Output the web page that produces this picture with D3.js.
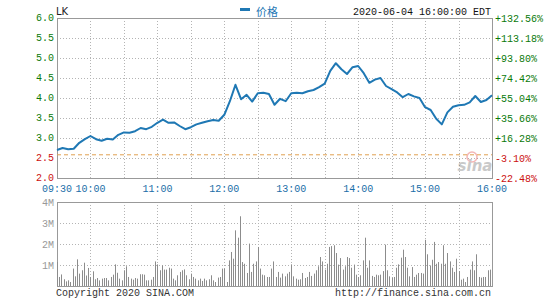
<!DOCTYPE html>
<html>
<head>
<meta charset="utf-8">
<script src="https://cdn.jsdelivr.net/npm/d3@7"></script>
<style>
  body { margin: 0; background: #fff; }
  text { font-family: "Liberation Mono", "DejaVu Sans Mono", monospace; font-size: 10px; }
</style>
</head>
<body>
<svg id="chart" width="545" height="300"></svg>
<script>
// price every 5 minutes from 09:30
var priceStep = 5;
var prices = [2.70, 2.75, 2.72, 2.73, 2.88, 2.97, 3.05, 2.97, 2.93, 2.98,
  2.96, 3.08, 3.14, 3.13, 3.17, 3.25, 3.22, 3.28, 3.38, 3.46,
  3.38, 3.39, 3.30, 3.22, 3.27, 3.34, 3.38, 3.42, 3.45, 3.43,
  3.58, 3.92, 4.33, 3.97, 4.08, 3.91, 4.12, 4.13, 4.10, 3.83,
  3.98, 3.92, 4.12, 4.13, 4.12, 4.17, 4.20, 4.27, 4.36, 4.68,
  4.87, 4.72, 4.60, 4.77, 4.80, 4.62, 4.38, 4.46, 4.50, 4.30,
  4.22, 4.14, 4.02, 4.10, 4.04, 4.00, 3.77, 3.70, 3.48, 3.34,
  3.64, 3.78, 3.82, 3.83, 3.89, 4.05, 3.90, 3.95, 4.07];

// volume (millions) every 2 minutes
var volStep = 2;
var volumes = [1.14, 0.43, 0.55, 0.32, 0.22, 0.27, 0.19, 0.83, 0.46, 1.27,
  0.59, 0.75, 1.11, 0.50, 0.86, 0.43, 0.70, 0.32, 0.38, 0.27,
  0.35, 0.38, 0.38, 0.27, 0.43, 0.54, 1.03, 0.63, 0.35, 0.27,
  0.75, 0.94, 0.43, 0.35, 0.30, 0.38, 0.35, 0.56, 0.56, 0.54,
  0.27, 0.27, 0.30, 0.43, 1.17, 1.03, 0.75, 0.98, 0.78, 0.78,
  0.87, 0.83, 0.35, 0.27, 0.51, 0.67, 0.75, 0.79, 0.51, 0.32,
  0.59, 0.43, 0.35, 0.27, 0.35, 0.24, 0.35, 0.27, 0.32, 0.51,
  0.27, 0.19, 0.40, 0.43, 0.83, 0.83, 0.19, 1.22, 1.62, 1.30,
  2.65, 2.30, 3.32, 1.14, 1.06, 0.62, 2.02, 0.67, 1.06, 1.17,
  1.86, 0.83, 0.54, 0.51, 0.43, 0.43,
  0.83, 1.17, 0.43, 0.67, 0.40, 0.59, 0.46, 0.59, 0.67, 1.03,
  0.46, 0.35, 0.30, 0.32, 0.62, 0.38, 0.43, 0.67, 0.48, 0.59,
  0.75, 0.94, 1.38, 1.17, 0.78, 1.06, 1.86, 1.90, 1.94, 1.57,
  1.02, 1.33, 0.78, 0.94, 1.38, 1.33, 0.87, 1.02, 0.54, 0.43,
  0.51, 1.22, 2.30, 0.87, 1.22, 0.48, 0.43, 0.54, 0.51, 0.54,
  0.71, 1.97, 0.75, 0.46, 0.40, 0.43, 0.87, 1.03, 1.35, 1.73,
  1.38, 0.87, 0.46, 0.90, 0.43, 0.54, 0.62, 0.62, 0.59, 2.20,
  1.51, 0.98, 1.25, 2.10, 1.06, 1.14, 1.06, 1.94, 1.06, 1.57,
  1.17, 0.87, 0.67, 1.30, 0.71, 0.30, 0.35, 0.19, 0.43, 0.78,
  1.17, 0.75, 1.51, 0.43, 0.40, 0.43, 0.43, 0.75, 0.78];

var prevClose = 2.58;
var priceTicks = [2.0, 2.5, 3.0, 3.5, 4.0, 4.5, 5.0, 5.5, 6.0];
var pctLabels = ["-22.48%", "-3.10%", "+16.28%", "+35.66%", "+55.04%",
  "+74.42%", "+93.80%", "+113.18%", "+132.56%"];
var volTicks = [1, 2, 3, 4];
var volLabels = ["1M", "2M", "3M", "4M"];
var timeTicks = [0, 30, 90, 150, 210, 270, 330, 390];
var timeLabels = ["09:30", "10:00", "11:00", "12:00", "13:00", "14:00", "15:00", "16:00"];
var gridMinutes = d3.range(30, 390, 30);

var svg = d3.select('#chart');
var left = 57, right = 492;

var x = d3.scaleLinear().domain([0, 390]).range([left, right]);
var y = d3.scaleLinear().domain([2, 6]).range([178, 18]);
var yv = d3.scaleLinear().domain([0, 4]).range([286, 202]);

//panel frames and dotted grid
function drawGrid(scaleY, ticks) {
  var g = svg.append('g');
  g.selectAll('line.h').data(ticks).enter().append('line')
    .attr('x1', left).attr('x2', right)
    .attr('y1', function(d) { return Math.round(scaleY(d)) + 0.5; })
    .attr('y2', function(d) { return Math.round(scaleY(d)) + 0.5; })
    .attr('stroke', '#b4b4b4').attr('stroke-dasharray', '1,2');
  var r = scaleY.range();
  g.selectAll('line.v').data(gridMinutes).enter().append('line')
    .attr('x1', function(d) { return Math.round(x(d)) + 0.5; })
    .attr('x2', function(d) { return Math.round(x(d)) + 0.5; })
    .attr('y1', r[1]).attr('y2', r[0])
    .attr('stroke', '#b4b4b4').attr('stroke-dasharray', '1,2');
  g.append('rect')
    .attr('x', left + 0.5).attr('y', r[1] + 0.5)
    .attr('width', right - left).attr('height', r[0] - r[1])
    .attr('fill', 'none').attr('stroke', '#999');
}
drawGrid(y, priceTicks.slice(1, -1));
drawGrid(yv, volTicks.slice(0, -1));

// sina watermark
var wm = svg.append('g').attr('opacity', 0.35);
wm.append('circle').attr('cx', 472).attr('cy', 157).attr('r', 5)
  .attr('fill', 'none').attr('stroke', '#e03030').attr('stroke-width', 1.5);
wm.append('text').attr('x', 475).attr('y', 171).attr('text-anchor', 'middle')
  .style('font-family', 'DejaVu Sans').style('font-size', '15px')
  .style('font-style', 'italic').style('font-weight', 'bold')
  .attr('fill', '#666').text('sina');

// previous close
svg.append('line')
  .attr('x1', left).attr('x2', right)
  .attr('y1', y(prevClose)).attr('y2', y(prevClose))
  .attr('stroke', '#e0a050').attr('stroke-dasharray', '4,3');

// volume bars
svg.append('g').selectAll('line').data(volumes).enter().append('line')
  .attr('x1', function(d, i) { return Math.round(x(i * volStep)) + 0.5; })
  .attr('x2', function(d, i) { return Math.round(x(i * volStep)) + 0.5; })
  .attr('y1', yv(0)).attr('y2', function(d) { return yv(d); })
  .attr('stroke', '#8c8c8c');

// price line
var line = d3.line()
  .x(function(d, i) { return x(i * priceStep); })
  .y(function(d) { return y(d); });
svg.append('path').datum(prices)
  .attr('d', line).attr('fill', 'none')
  .attr('stroke', '#1f78b4').attr('stroke-width', 2)
  .attr('stroke-linejoin', 'round');

// axis labels
var colorOf = function(d) { return d >= prevClose ? '#0a7a0a' : '#cc1010'; };
svg.append('g').selectAll('text').data(priceTicks).enter().append('text')
  .attr('x', 54).attr('y', function(d) { return y(d) + 3; })
  .attr('text-anchor', 'end').attr('fill', colorOf)
  .text(function(d) { return d.toFixed(1); });
svg.append('g').selectAll('text').data(priceTicks).enter().append('text')
  .attr('x', 495).attr('y', function(d) { return y(d) + 4; })
  .attr('fill', colorOf)
  .text(function(d, i) { return pctLabels[i]; });
svg.append('g').selectAll('text').data(timeTicks).enter().append('text')
  .attr('x', function(d) { return x(d); }).attr('y', 192)
  .attr('text-anchor', 'middle').attr('fill', '#1a6ea8')
  .text(function(d, i) { return timeLabels[i]; });
svg.append('g').selectAll('text').data(volTicks).enter().append('text')
  .attr('x', 54).attr('y', function(d) { return yv(d) + 4; })
  .attr('text-anchor', 'end').attr('fill', '#999')
  .text(function(d, i) { return volLabels[i]; });

// header
svg.append('text').attr('x', 56).attr('y', 15)
  .style('font-family', 'DejaVu Sans').style('font-size', '10px')
  .attr('fill', '#222').text('LK');
svg.append('rect').attr('x', 240).attr('y', 8).attr('width', 10).attr('height', 3)
  .attr('fill', '#1f78b4');
svg.append('text').attr('x', 256).attr('y', 16)
  .style('font-family', '"Noto Sans CJK SC"').style('font-size', '11px')
  .attr('fill', '#1f78b4').text('价格');
svg.append('text').attr('x', 491).attr('y', 15).attr('text-anchor', 'end')
  .attr('fill', '#111').text('2020-06-04 16:00:00 EDT');

// footer
svg.append('text').attr('x', 56).attr('y', 296)
  .attr('fill', '#333').text('Copyright 2020 SINA.COM');
svg.append('text').attr('x', 491).attr('y', 296).attr('text-anchor', 'end')
  .attr('fill', '#333').text('http://finance.sina.com.cn');
</script>
</body>
</html>
